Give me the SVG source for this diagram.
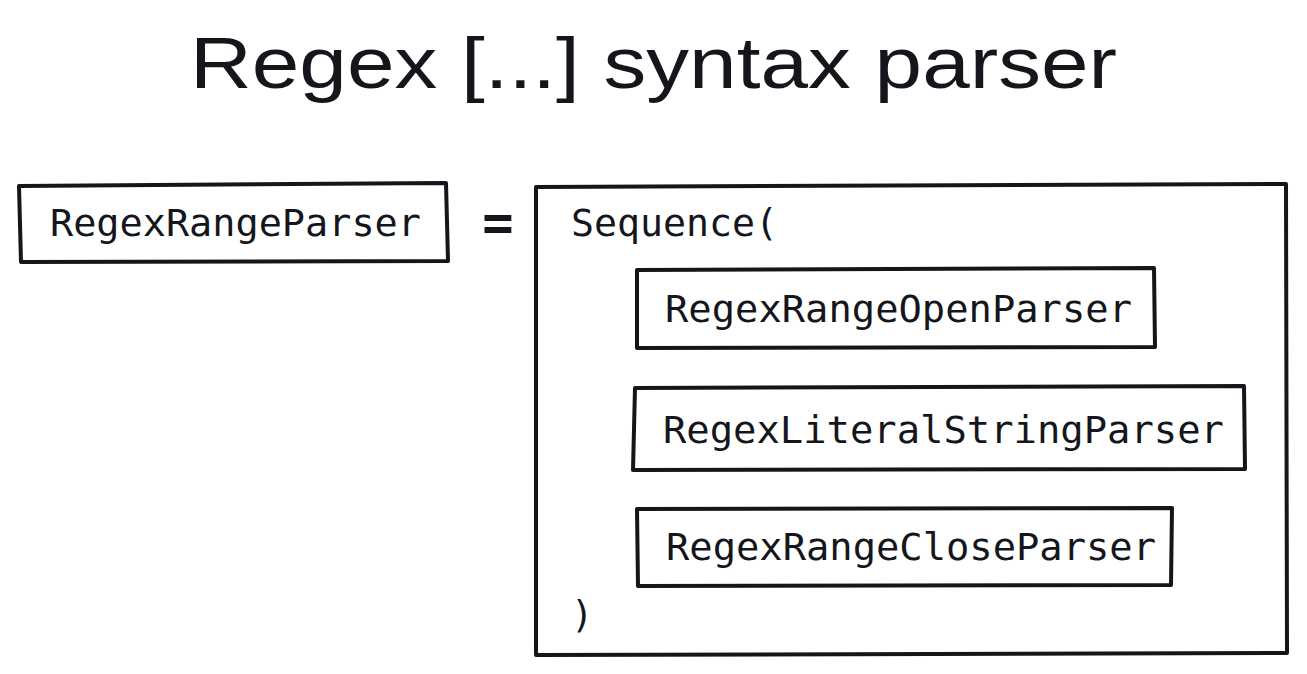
<svg xmlns="http://www.w3.org/2000/svg" width="1307" height="674" viewBox="0 0 1307 674">
<style>
.box{fill:none;stroke:#15161c;stroke-width:4;stroke-linejoin:round;stroke-linecap:round}
.mono{font-family:"DejaVu Sans Mono","Liberation Mono",monospace;font-size:37px;fill:#15161c}
.title{font-family:"Liberation Sans","DejaVu Sans",sans-serif;font-size:72px;fill:#15161c}
</style>
<rect width="1307" height="674" fill="#ffffff"/>
<text class="title" x="190" y="88" textLength="927" lengthAdjust="spacingAndGlyphs">Regex [...] syntax parser</text>
<g id="regex-range-parser">
<path class="box" d="M19,186 L446,183 L448,261 L21,262 Z"/>
<text class="mono" x="50" y="236" textLength="371" lengthAdjust="spacingAndGlyphs">RegexRangeParser</text>
</g>
<g id="equals">
<text x="498" y="240" text-anchor="middle" font-family="DejaVu Sans Mono,monospace" font-weight="bold" font-size="52" fill="#15161c">=</text>
</g>
<g id="sequence">
<path class="box" d="M536,187 L1286,184 L1287,653 L536,655 Z"/>
<text class="mono" x="571" y="236" textLength="207" lengthAdjust="spacingAndGlyphs">Sequence(</text>
<text class="mono" x="571" y="628">)</text>
</g>
<g id="regex-range-open-parser">
<path class="box" d="M637,270 L1154,268 L1155,347 L637,348 Z"/>
<text class="mono" x="665" y="322" textLength="467" lengthAdjust="spacingAndGlyphs">RegexRangeOpenParser</text>
</g>
<g id="regex-literal-string-parser">
<path class="box" d="M635,388 L1244,386 L1245,469 L633,470 Z"/>
<text class="mono" x="663" y="443" textLength="561" lengthAdjust="spacingAndGlyphs">RegexLiteralStringParser</text>
</g>
<g id="regex-range-close-parser">
<path class="box" d="M637,509 L1172,508 L1171,585 L638,586 Z"/>
<text class="mono" x="666" y="560" textLength="490" lengthAdjust="spacingAndGlyphs">RegexRangeCloseParser</text>
</g>
<g id="connectors"></g>
</svg>
